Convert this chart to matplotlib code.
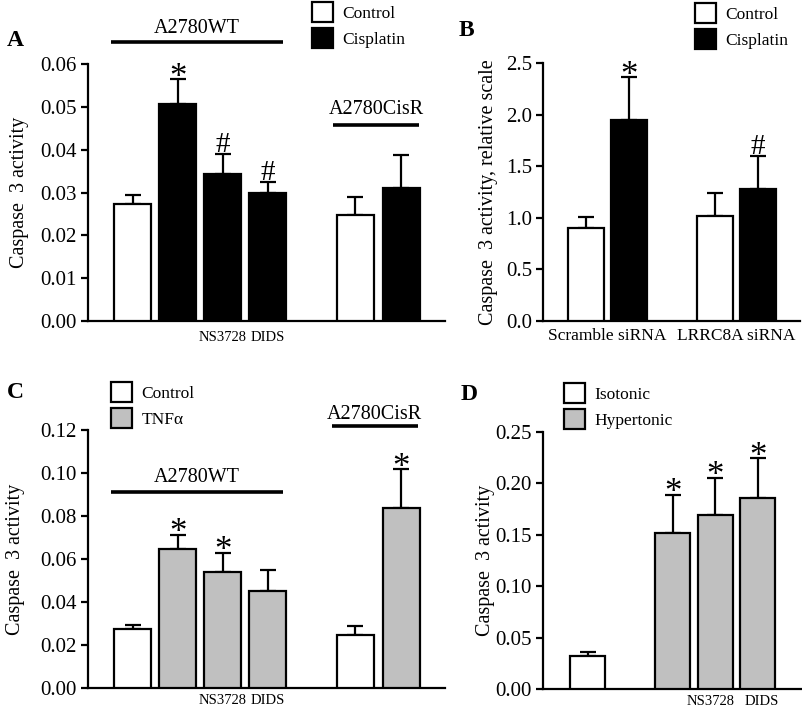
import numpy as np
import matplotlib
matplotlib.use("Agg")
import matplotlib.pyplot as plt
from matplotlib.patches import Patch
from matplotlib.transforms import blended_transform_factory

plt.rcParams['font.family'] = ['Liberation Serif', 'DejaVu Serif']

W, H = 803, 711

# ---- data ----
# panel A: caspase 3 activity, A2780WT (ctrl, cis, cis+NS3728, cis+DIDS) and A2780CisR (ctrl, cis)
a_vals = [0.0273, 0.0507, 0.0343, 0.0298, 0.0247, 0.0311]
a_errs = [0.0021, 0.0057, 0.0046, 0.0026, 0.0043, 0.0076]
a_fill = ['white', 'black', 'black', 'black', 'white', 'black']
a_marks = ['', '*', '#', '#', '', '']

# panel B: relative scale, scramble / LRRC8A siRNA
b_vals = [0.90, 1.947, 1.019, 1.277]
b_errs = [0.106, 0.417, 0.223, 0.317]
b_fill = ['white', 'black', 'white', 'black']
b_marks = ['', '*', '', '#']

# panel C: TNFa
c_vals = [0.0273, 0.0648, 0.0539, 0.0450, 0.0247, 0.0839]
c_errs = [0.0022, 0.0065, 0.0090, 0.0101, 0.0042, 0.0180]
c_fill = ['white', 'grey', 'grey', 'grey', 'white', 'grey']
c_marks = ['', '*', '*', '', '', '*']

# panel D: hypertonic
d_vals = [0.0323, 0.1514, 0.1695, 0.1856]
d_errs = [0.0039, 0.0378, 0.0362, 0.0392]
d_fill = ['white', 'grey', 'grey', 'grey']
d_marks = ['', '*', '*', '*']

GREY = '#c0c0c0'
LW = 1.6
TICK_FS = 15
LAB_FS = 14.5


def px_axes(left, top, right, bottom):
    return fig.add_axes([left / W, 1 - bottom / H, (right - left) / W, (bottom - top) / H])


def draw_bars(ax, pos, vals, errs, fill, marks, width, ylim, yticks, fmt):
    colors = [GREY if f == 'grey' else f for f in fill]
    ax.errorbar(pos, vals, yerr=[np.zeros(len(vals)), errs], fmt='none', ecolor='black',
                elinewidth=LW, capsize=6, capthick=LW, zorder=2)
    ax.bar(pos, vals, width=width, color=colors, edgecolor='black', linewidth=LW, zorder=3)
    for x, v, e, m in zip(pos, vals, errs, marks):
        if m == '*':
            ax.annotate('*', (x, v + e), xytext=(0, -5.5), textcoords='offset points',
                        ha='center', va='baseline', fontsize=25)
        elif m == '#':
            ax.annotate('#', (x, v + e), xytext=(0, 1.5), textcoords='offset points',
                        ha='center', va='baseline', fontsize=21)
    ax.set_ylim(*ylim)
    ax.set_yticks(yticks)
    ax.set_yticklabels([fmt.format(t) for t in yticks], fontsize=TICK_FS)
    for s in ['top', 'right']:
        ax.spines[s].set_visible(False)
    for s in ['left', 'bottom']:
        ax.spines[s].set_linewidth(LW)
    ax.tick_params(axis='y', direction='out', length=5, width=LW, pad=3)
    ax.tick_params(axis='x', length=0, labelsize=10.5, pad=7)


def group_line(ax, x0, x1, y_line, y_text, label):
    tr = blended_transform_factory(ax.transData, ax.transAxes)
    ax.plot([x0, x1], [y_line, y_line], color='black', lw=2.6, transform=tr, clip_on=False,
            solid_capstyle='butt')
    ax.text((x0 + x1) / 2, y_text, label, transform=tr, ha='center', va='center',
            fontsize=LAB_FS)


def legend(labels, fill, x, y):
    handles = [Patch(facecolor=GREY if f == 'grey' else f, edgecolor='black', linewidth=LW)
               for f in fill]
    fig.legend(handles, labels, loc='upper left', bbox_to_anchor=(x / W, 1 - y / H),
               frameon=False, fontsize=12.5, handlelength=1.2, handleheight=1.4,
               handletextpad=0.55, labelspacing=0.35, borderpad=0, borderaxespad=0)


fig = plt.figure(figsize=(W / 100, H / 100), dpi=100)

# ---- A ----
axA = px_axes(88, 64, 445, 321)
posA = [0, 1, 2, 3, 4.95, 5.97]
draw_bars(axA, posA, a_vals, a_errs, a_fill, a_marks, 0.82, (0, 0.06),
          [0, 0.01, 0.02, 0.03, 0.04, 0.05, 0.06], '{:.2f}')
axA.set_xlim(-0.99, 6.94)
axA.set_xticks([2, 3])
axA.set_xticklabels(['NS3728', 'DIDS'])
axA.set_ylabel('Caspase  3 activity', fontsize=LAB_FS)
axA.yaxis.set_label_coords(-0.165, 0.5)
group_line(axA, -0.48, 3.34, 1.085, 1.14, 'A2780WT')
group_line(axA, 4.45, 6.37, 0.763, 0.822, 'A2780CisR')

# ---- B ----
axB = px_axes(543, 63, 800, 321)
posB = [1, 2, 4, 5]
draw_bars(axB, posB, b_vals, b_errs, b_fill, b_marks, 0.84, (0, 2.5),
          [0, 0.5, 1.0, 1.5, 2.0, 2.5], '{:.1f}')
axB.set_xlim(0, 5.98)
axB.set_xticks([1.5, 4.5])
axB.set_xticklabels(['Scramble siRNA', 'LRRC8A siRNA'])
axB.tick_params(axis='x', labelsize=12.5, pad=5)
axB.set_ylabel('Caspase  3 activity, relative scale', fontsize=LAB_FS)
axB.yaxis.set_label_coords(-0.175, 0.5)

# ---- C ----
axC = px_axes(88, 430, 445, 688)
draw_bars(axC, posA, c_vals, c_errs, c_fill, c_marks, 0.82, (0, 0.12),
          [0, 0.02, 0.04, 0.06, 0.08, 0.10, 0.12], '{:.2f}')
axC.set_xlim(-0.99, 6.94)
axC.set_xticks([2, 3])
axC.set_xticklabels(['NS3728', 'DIDS'])
axC.tick_params(axis='x', pad=4)
axC.set_ylabel('Caspase  3 activity', fontsize=LAB_FS)
axC.yaxis.set_label_coords(-0.176, 0.5)
group_line(axC, -0.48, 3.34, 0.76, 0.814, 'A2780WT')
group_line(axC, 4.43, 6.33, 1.016, 1.06, 'A2780CisR')

# ---- D ----
axD = px_axes(543, 432, 802, 689)
posD = [1, 3, 4, 5]
draw_bars(axD, posD, d_vals, d_errs, d_fill, d_marks, 0.82, (0, 0.25),
          [0, 0.05, 0.10, 0.15, 0.20, 0.25], '{:.2f}')
axD.set_xlim(-0.05, 6.04)
axD.set_xticks([3.9, 5.1])
axD.set_xticklabels(['NS3728', 'DIDS'])
axD.tick_params(axis='x', pad=4)
axD.set_ylabel('Caspase  3 activity', fontsize=LAB_FS)
axD.yaxis.set_label_coords(-0.186, 0.5)

# legends
legend(['Control', 'Cisplatin'], ['white', 'black'], 312, 2)
legend(['Control', 'Cisplatin'], ['white', 'black'], 695, 3)
legend(['Control', 'TNFα'], ['white', 'grey'], 111, 382)
legend(['Isotonic', 'Hypertonic'], ['white', 'grey'], 564, 383)

# panel letters
for letter, x, y in [('A', 15, 40), ('B', 466, 31), ('C', 15, 393), ('D', 469, 395)]:
    fig.text(x / W, 1 - y / H, letter, fontsize=17, fontweight='bold', ha='center', va='center')

fig.savefig('out.png', dpi=100)
